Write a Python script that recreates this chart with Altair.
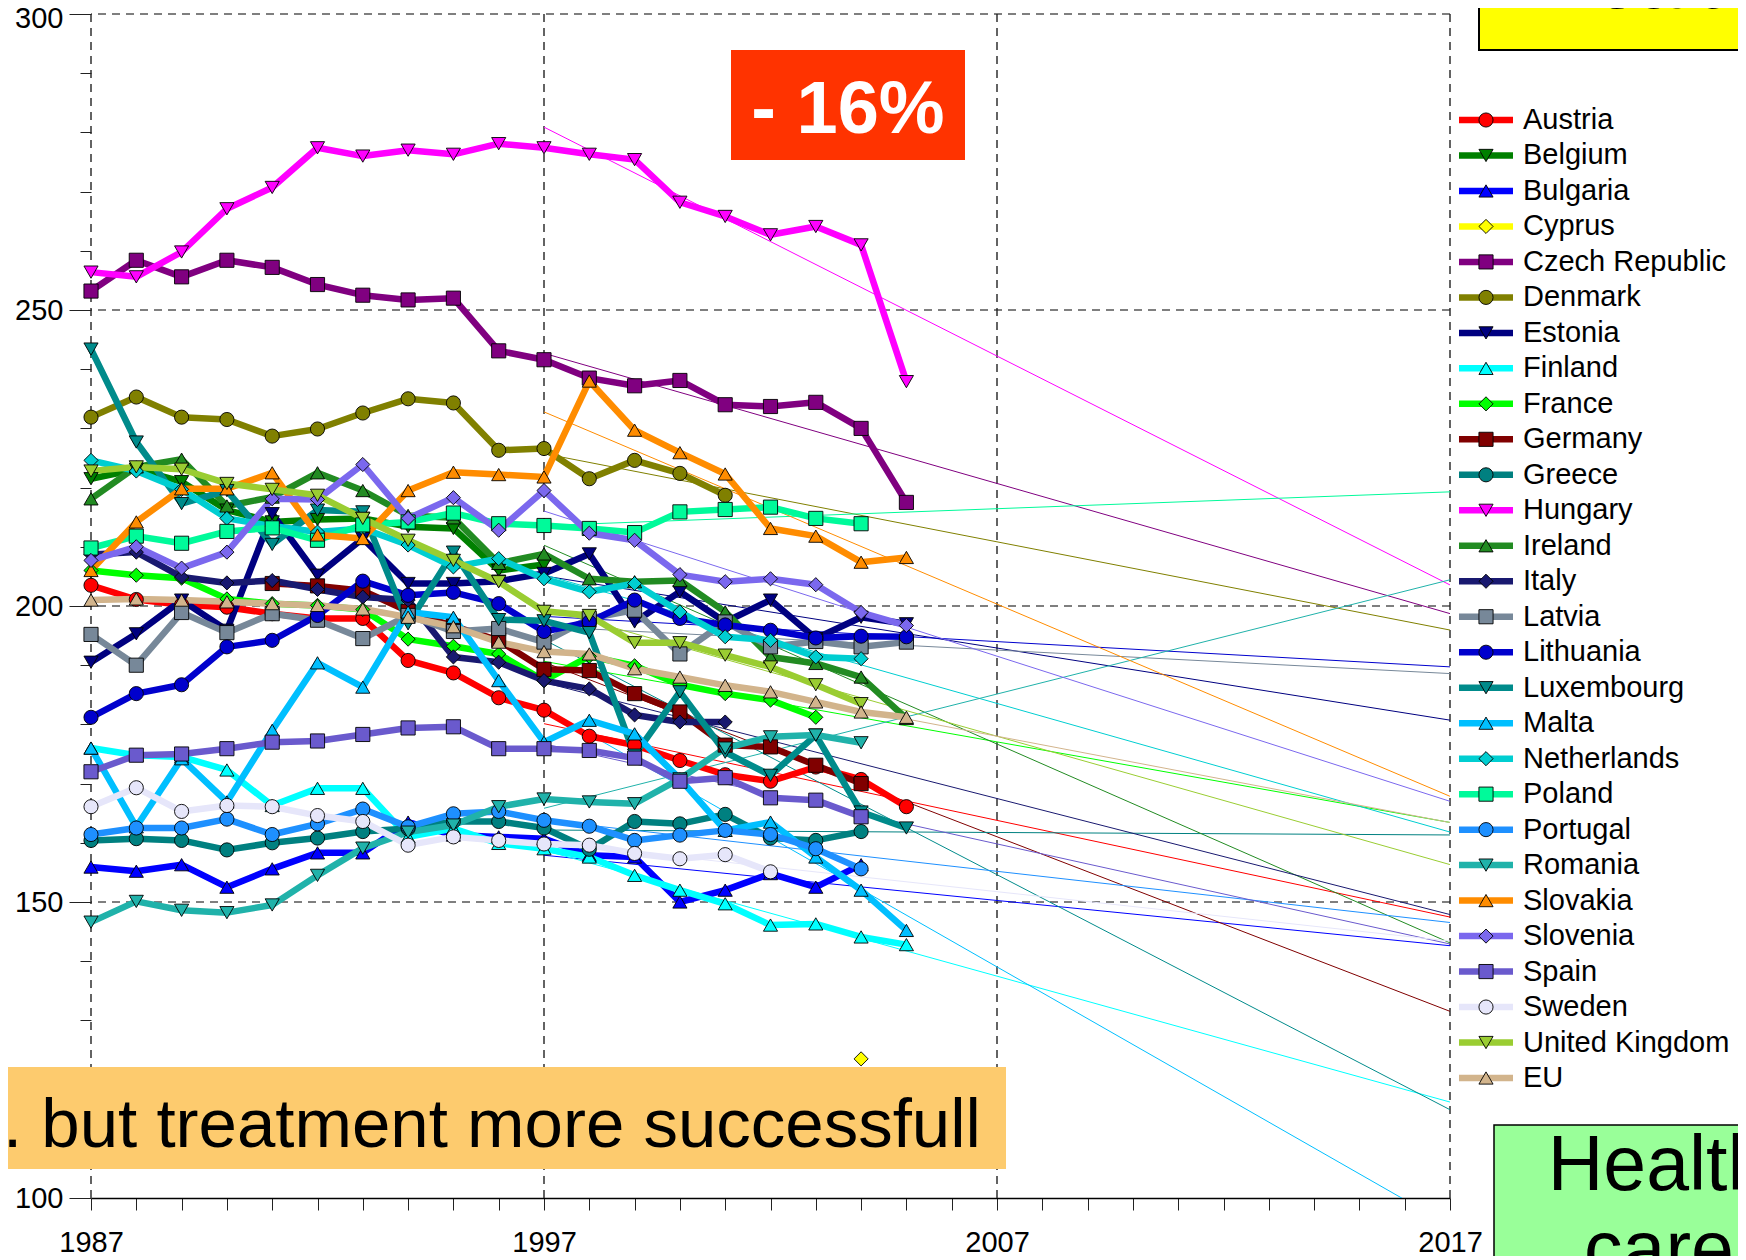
import altair as alt
import pandas as pd

YEARS = list(range(1987, 2006))
N = None

AUSTRIA = [203.5, 201.1, 200.2, 199.8, 198.7, 197.9, 197.9, 190.8, 188.7, 184.5, 182.4, 178.0, 176.5, 173.9, 171.5, 170.4, 172.8, 170.7, 166.1]
BELGIUM = [221.5, 223.1, 221.0, 216.2, 214.2, 214.6, 214.8, 213.4, 213.1, 206.0, 207.0, N, N, N, N, N, N, N, N]
BULGARIA = [155.9, 155.2, 156.3, 152.5, 155.6, 158.3, 158.3, 163.5, 161.3, 161.0, 160.7, 157.9, 157.6, 150.0, 152.0, 154.8, 152.5, 156.3, N]
CYPRUS = [N, N, N, N, N, N, N, N, N, N, N, N, N, N, N, N, N, 123.5, N]
CZECH = [253.2, 258.4, 255.6, 258.4, 257.2, 254.3, 252.5, 251.7, 252.0, 243.1, 241.6, 238.5, 237.2, 238.1, 234.0, 233.7, 234.4, 230.0, 217.5]
DENMARK = [231.9, 235.3, 231.9, 231.5, 228.7, 229.9, 232.6, 235.0, 234.3, 226.3, 226.6, 221.5, 224.6, 222.4, 218.7, N, N, N, N]
ESTONIA = [190.5, 195.3, 201.0, 195.9, 215.6, 205.2, 211.4, 203.8, 203.8, 204.2, 205.5, 208.8, 197.3, 202.4, 197.3, 201.0, 194.5, 198.1, 197.0]
FINLAND = [176.0, 174.8, 174.5, 172.3, 166.3, 169.2, 169.2, 161.0, 162.4, 159.9, 159.0, 157.6, 154.5, 152.0, 149.7, 146.1, 146.3, 144.1, 142.8]
FRANCE = [206.0, 205.2, 204.7, 201.2, 200.4, 200.1, 199.4, 194.4, 193.2, 191.9, 187.4, 191.5, 189.9, 186.7, 185.2, 184.1, 181.2, N, N]
GERMANY = [N, N, N, N, 203.8, 203.4, 202.6, 199.1, 196.6, 194.2, 189.3, 189.1, 185.2, 182.1, 176.5, 176.2, 173.1, 170.0, N]
GREECE = [160.4, 160.7, 160.4, 158.8, 160.0, 160.8, 161.9, 162.4, 163.6, 163.6, 162.5, 158.9, 163.6, 163.2, 164.8, 160.8, 160.4, 161.9, N]
HUNGARY = [256.4, 255.6, 259.8, 267.1, 270.7, 277.4, 276.0, 277.0, 276.3, 278.1, 277.4, 276.3, 275.4, 268.2, 265.8, 262.7, 264.1, 261.0, 237.9]
IRELAND = [218.1, 223.5, 224.8, 216.9, 218.4, 222.5, 219.5, 215.3, 214.9, 207.2, 208.8, 204.6, 204.1, 204.3, 199.0, 191.4, 190.3, 188.0, 181.0]
ITALY = [208.7, 209.1, 204.9, 203.9, 204.3, 202.8, 201.5, 201.0, 191.4, 190.5, 187.4, 186.0, 181.6, 180.4, 180.4, N, N, N, N]
LATVIA = [195.2, 190.0, 198.9, 195.5, 198.7, 197.6, 194.5, 198.4, 195.7, 196.2, 193.9, 197.9, 199.3, 191.9, 197.3, 193.1, 194.0, 193.1, 193.9]
LITHUANIA = [181.2, 185.2, 186.7, 193.1, 194.2, 198.4, 204.2, 201.8, 202.3, 200.4, 195.7, 197.3, 201.0, 197.9, 196.8, 195.9, 194.6, 194.9, 194.8]
LUXEMBOURG = [243.4, 227.7, 217.3, 219.5, 210.4, 216.2, 215.9, 197.0, 209.1, 197.7, 197.5, 195.5, 174.8, 185.5, 175.3, 171.4, 178.2, 165.2, 162.5]
MALTA = [176.0, 162.7, 174.2, 166.9, 179.0, 190.4, 186.3, 199.0, 198.1, 187.4, 177.0, 180.7, 178.4, 170.8, 162.1, 163.5, 157.6, 152.0, 145.2]
NETHERLANDS = [224.6, 222.8, 219.7, 214.8, 213.5, 212.5, 213.1, 210.3, 206.6, 208.0, 204.6, 202.4, 203.8, 199.0, 194.8, 194.2, 191.4, 191.1, N]
POLAND = [209.8, 211.8, 210.6, 212.6, 213.2, 211.1, 213.7, 214.2, 215.7, 213.9, 213.6, 213.1, 212.4, 215.9, 216.3, 216.7, 214.8, 213.9, N]
PORTUGAL = [161.4, 162.5, 162.5, 164.0, 161.4, 163.2, 165.7, 162.7, 164.9, 165.3, 163.8, 162.8, 160.4, 161.3, 162.1, 161.4, 159.0, 155.6, N]
ROMANIA = [146.6, 150.1, 148.6, 148.2, 149.5, 154.5, 159.1, 161.8, 163.0, 166.1, 167.4, 166.9, 166.6, 170.8, 176.0, 177.9, 178.2, 176.9, N]
SLOVAKIA = [206.0, 214.2, 219.8, 219.8, 222.5, 212.0, 211.4, 219.5, 222.6, 222.2, 221.8, 238.0, 229.7, 225.9, 222.3, 213.1, 211.8, 207.4, 208.2]
SLOVENIA = [207.7, 210.0, 206.4, 209.1, 218.1, 218.0, 223.9, 214.8, 218.3, 212.8, 219.5, 212.3, 211.1, 205.3, 204.1, 204.6, 203.6, 198.9, 196.7]
SPAIN = [172.0, 174.8, 175.0, 175.9, 177.0, 177.2, 178.3, 179.4, 179.6, 175.9, 175.9, 175.6, 174.3, 170.4, 171.0, 167.6, 167.2, 164.4, N]
SWEDEN = [166.1, 169.3, 165.3, 166.3, 166.1, 164.6, 163.6, 159.6, 161.0, 160.4, 159.8, 159.6, 158.2, 157.3, 158.0, 155.1, N, N, N]
UK = [222.8, 223.5, 223.1, 220.7, 219.7, 218.7, 214.8, 211.1, 207.7, 204.1, 199.1, 198.4, 193.8, 193.8, 191.7, 189.7, 186.7, 183.5, N]
EU = [201.0, 201.2, 201.0, 200.7, 200.4, 200.1, 199.5, 198.1, 196.5, 193.9, 192.3, 191.9, 189.4, 188.0, 186.6, 185.5, 183.8, 182.1, 181.2]

COUNTRIES = ["Austria", "Belgium", "Bulgaria", "Cyprus", "Czech Republic", "Denmark",
             "Estonia", "Finland", "France", "Germany", "Greece", "Hungary", "Ireland",
             "Italy", "Latvia", "Lithuania", "Luxembourg", "Malta", "Netherlands",
             "Poland", "Portugal", "Romania", "Slovakia", "Slovenia", "Spain", "Sweden",
             "United Kingdom", "EU"]
SERIES = [AUSTRIA, BELGIUM, BULGARIA, CYPRUS, CZECH, DENMARK, ESTONIA, FINLAND, FRANCE,
          GERMANY, GREECE, HUNGARY, IRELAND, ITALY, LATVIA, LITHUANIA, LUXEMBOURG, MALTA,
          NETHERLANDS, POLAND, PORTUGAL, ROMANIA, SLOVAKIA, SLOVENIA, SPAIN, SWEDEN, UK, EU]
COLORS = ["#FF0000", "#008000", "#0000FF", "#FFFF00", "#800080", "#808000",
          "#000080", "#00FFFF", "#00FF00", "#800000", "#008080", "#FF00FF", "#228B22",
          "#191970", "#778899", "#0000CD", "#008B8B", "#00BFFF", "#00CED1",
          "#00FA9A", "#1E90FF", "#20B2AA", "#FF8C00", "#7B68EE", "#6A5ACD", "#E6E6FA",
          "#9ACD32", "#D2B48C"]
SHAPES = ["circle", "triangle-down", "triangle-up", "diamond", "square", "circle",
          "triangle-down", "triangle-up", "diamond", "square", "circle", "triangle-down", "triangle-up",
          "diamond", "square", "circle", "triangle-down", "triangle-up", "diamond",
          "square", "circle", "triangle-down", "triangle-up", "diamond", "square", "circle",
          "triangle-down", "triangle-up"]

Y_GRID = [150, 200, 250, 300]
X_GRID = [1987, 1997, 2007, 2017]

rows = []
for name, vals in zip(COUNTRIES, SERIES):
    for yr, v in zip(YEARS, vals):
        if v is not None:
            rows.append({"country": name, "year": yr, "value": v})
df = pd.DataFrame(rows)

trend_src = df[df["year"] >= 1997]
counts = trend_src.groupby("country")["year"].transform("count")
trend_src = trend_src[counts >= 2]

legend_df = pd.DataFrame({"country": COUNTRIES, "rank": list(range(len(COUNTRIES)))})
one = pd.DataFrame({"a": [0]})

FONT = "Liberation Sans"
MSIZE = 200
xs = alt.Scale(domain=[1987, 2017], nice=False, zero=False)
ys = alt.Scale(domain=[100, 300], nice=False, zero=False)
cs = alt.Scale(domain=COUNTRIES, range=COLORS)
ss = alt.Scale(domain=COUNTRIES, range=SHAPES)

XAX = alt.Axis(values=list(range(1987, 2018)), format="d",
               labelExpr="(datum.value - 1987) % 10 == 0 ? datum.label : ''",
               tickSize=12, tickColor="#222", labelPadding=18, labelFlush=False,
               labelOverlap=False, domain=True, domainColor="#000", domainWidth=1.5,
               grid=False, title=None, labelFont=FONT, labelFontSize=29, labelColor="#000")
YAX = alt.Axis(values=list(range(100, 301, 10)), format="d",
               labelExpr="datum.value % 50 == 0 ? datum.label : ''",
               tickSize={"condition": {"test": "datum.value % 50 === 0", "value": 22}, "value": 11},
               labelOffset={"condition": {"test": "datum.value === 300", "value": 4}, "value": 0},
               tickColor="#222", labelPadding=6, domain=False, grid=False, title=None,
               labelFont=FONT, labelFontSize=29, labelColor="#000", labelOverlap=False)

X = alt.X("year:Q", scale=xs, axis=XAX)
Y = alt.Y("value:Q", scale=ys, axis=YAX)
C = alt.Color("country:N", scale=cs, legend=None)
S = alt.Shape("country:N", scale=ss, legend=None)

hgrid = alt.Chart(pd.DataFrame({"value": Y_GRID})).mark_rule(
    color="#555", strokeDash=[8, 6], strokeWidth=1.4).encode(y=Y)
vgrid = alt.Chart(pd.DataFrame({"year": X_GRID})).mark_rule(
    color="#222", strokeDash=[8, 6], strokeWidth=1.4).encode(x=X)

trend = alt.Chart(trend_src).transform_regression(
    "year", "value", groupby=["country"], extent=[1997, 2017]
).mark_line(strokeWidth=1, clip=True).encode(x=X, y=Y, color=C, detail="country:N")

lines = alt.Chart(df).mark_line(strokeWidth=6.5, strokeJoin="round").encode(
    x=X, y=Y, color=C, detail="country:N")
points = alt.Chart(df).mark_point(filled=True, size=MSIZE, stroke="#000",
                                  strokeWidth=0.9, opacity=1).encode(
    x=X, y=Y, fill=alt.Fill("country:N", scale=cs, legend=None), shape=S)

data_layer = alt.layer(hgrid, vgrid, trend, lines, points)

LY = alt.Y("rank:Q", scale=alt.Scale(domain=[0, 27], range=[106, 1064], nice=False, zero=False), axis=None)
leg_line = alt.Chart(legend_df).mark_rule(strokeWidth=6.5).encode(
    x=alt.value(1368), x2=alt.value(1422), y=LY, color=C)
leg_pt = alt.Chart(legend_df).mark_point(filled=True, size=MSIZE, stroke="#000",
                                         strokeWidth=0.9, opacity=1).encode(
    x=alt.value(1395), y=LY, fill=alt.Fill("country:N", scale=cs, legend=None), shape=S)
leg_txt = alt.Chart(legend_df).mark_text(align="left", baseline="middle", font=FONT,
                                         fontSize=29, color="#000").encode(
    x=alt.value(1432), y=LY, text="country:N")
legend_layer = alt.layer(leg_line, leg_pt, leg_txt)

red_box = alt.Chart(one).mark_rect(color="#FF3300").encode(
    x=alt.value(640), x2=alt.value(874), y=alt.value(36), y2=alt.value(146))
red_txt = alt.Chart(one).mark_text(text="- 16%", font=FONT, fontSize=74, fontWeight="bold",
                                   color="#FFFFFF", align="center", baseline="alphabetic").encode(
    x=alt.value(757), y=alt.value(119))
orange_box = alt.Chart(one).mark_rect(color="#FDCB6E").encode(
    x=alt.value(-91), x2=alt.value(915), y=alt.value(1053), y2=alt.value(1155))
orange_txt = alt.Chart(one).mark_text(text=". but treatment more successfull", font=FONT,
                                      fontSize=69, color="#000", align="left",
                                      baseline="alphabetic").encode(
    x=alt.value(-88), y=alt.value(1133))
yellow_box = alt.Chart(one).mark_rect(color="#FFFF00", stroke="#000", strokeWidth=2).encode(
    x=alt.value(1388), x2=alt.value(1700), y=alt.value(-40), y2=alt.value(36))
yellow_txt = alt.Chart(one).mark_text(text="Health", font=FONT, fontSize=77, color="#000",
                                      align="center", baseline="alphabetic").encode(
    x=alt.value(1560), y=alt.value(-6))
green_box = alt.Chart(one).mark_rect(color="#99FF99", stroke="#000", strokeWidth=1.5).encode(
    x=alt.value(1403), x2=alt.value(1700), y=alt.value(1111), y2=alt.value(1300))
green_txt1 = alt.Chart(one).mark_text(text="Health", font=FONT, fontSize=77, color="#000",
                                      align="center", baseline="alphabetic").encode(
    x=alt.value(1568), y=alt.value(1176))
green_txt2 = alt.Chart(one).mark_text(text="care", font=FONT, fontSize=77, color="#000",
                                      align="center", baseline="alphabetic").encode(
    x=alt.value(1568), y=alt.value(1261))

chart = alt.layer(
    data_layer, legend_layer, red_box, red_txt, orange_box, orange_txt,
    yellow_box, yellow_txt, green_box, green_txt1, green_txt2
).resolve_scale(y="independent").properties(
    width=1359, height=1184,
    padding={"left": 83, "top": 6, "right": 288, "bottom": 58},
    autosize=alt.AutoSizeParams(type="none"),
    background="#FFFFFF",
).configure_view(stroke=None)

chart.save("out.html", embed_options={"renderer": "svg", "actions": False})
